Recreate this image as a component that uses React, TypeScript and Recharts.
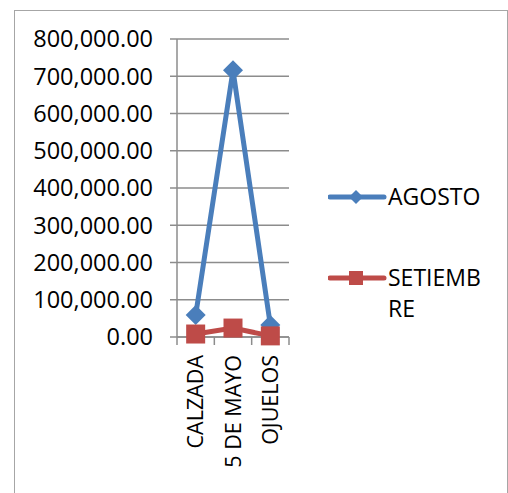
import { LineChart, Line, XAxis, YAxis, CartesianGrid, Legend } from "recharts";

const categories = ["CALZADA", "5 DE MAYO", "OJUELOS"];
const agosto = [59000, 716000, 32000];
const setiembre = [8000, 24000, 3000];
const yTicks = [0, 100000, 200000, 300000, 400000, 500000, 600000, 700000, 800000];
const seriesNames = ["AGOSTO", "SETIEMBRE"];

const data = categories.map((name, i) => ({
  name,
  agosto: agosto[i],
  setiembre: setiembre[i],
}));

const W = 508;
const H = 493;
const PLOT_LEFT = 177;
const PLOT_RIGHT = 289;
const PLOT_TOP = 39;
const PLOT_BOTTOM = 337;
const HALF_BAND = (PLOT_RIGHT - PLOT_LEFT) / categories.length / 2;

const FONT = "'Open Sans', sans-serif";
const BLUE = "#4A7EBB";
const RED = "#BE4B48";
const GRID = "#8C8C8C";

const fmt = (v: number) =>
  v.toLocaleString("en-US", { minimumFractionDigits: 2, maximumFractionDigits: 2 });

function Diamond({ cx, cy, r, fill }: { cx: number; cy: number; r: number; fill: string }) {
  return (
    <polygon
      points={`${cx},${cy - r} ${cx + r},${cy} ${cx},${cy + r} ${cx - r},${cy}`}
      fill={fill}
    />
  );
}

function Square({ cx, cy, r, fill }: { cx: number; cy: number; r: number; fill: string }) {
  return <rect x={cx - r} y={cy - r} width={r * 2} height={r * 2} fill={fill} />;
}

// category label rotated, plus tick marks between categories
function CategoryTick(props: any) {
  const { x, y, payload, index } = props;
  const ty = PLOT_BOTTOM + 18;
  return (
    <g>
      <line x1={x - HALF_BAND} y1={PLOT_BOTTOM} x2={x - HALF_BAND} y2={PLOT_BOTTOM + 8} stroke={GRID} strokeWidth={1.5} />
      {index === categories.length - 1 && (
        <line x1={x + HALF_BAND} y1={PLOT_BOTTOM} x2={x + HALF_BAND} y2={PLOT_BOTTOM + 8} stroke={GRID} strokeWidth={1.5} />
      )}
      <text
        x={x}
        y={ty}
        transform={`rotate(-90, ${x}, ${ty})`}
        textAnchor="end"
        dy="0.355em"
        fill="#000"
        fontSize={21.5}
        fontFamily={FONT}
      >
        {payload.value}
      </text>
    </g>
  );
}

function LegendBox() {
  const markers = [
    <Diamond cx={28} cy={12} r={7} fill={BLUE} />,
    <Square cx={28} cy={12} r={7} fill={RED} />,
  ];
  const colors = [BLUE, RED];
  return (
    <div style={{ fontFamily: FONT, fontSize: 23, color: "#000" }}>
      {seriesNames.map((name, i) => (
        <div key={name} style={{ display: "flex", alignItems: "flex-start", marginBottom: 50 }}>
          <svg width={60} height={24} style={{ marginTop: 4 }}>
            <line x1={2} y1={12} x2={56} y2={12} stroke={colors[i]} strokeWidth={5} strokeLinecap="round" />
            {markers[i]}
          </svg>
          <span style={{ width: 104, lineHeight: "31px", wordBreak: "break-all" }}>{name}</span>
        </div>
      ))}
    </div>
  );
}

export default function App() {
  return (
    <div style={{ position: "absolute", left: 0, top: 0, width: W, height: H, background: "#fff" }}>
      <div
        style={{
          position: "absolute",
          left: 14,
          top: 10,
          width: 492,
          height: 520,
          border: "1.5px solid #A6A6A6",
        }}
      />
      <LineChart
        width={W}
        height={H}
        data={data}
        margin={{ top: PLOT_TOP, right: W - PLOT_RIGHT, bottom: 0, left: 0 }}
      >
        <CartesianGrid vertical={false} stroke={GRID} strokeWidth={1.5} />
        <XAxis
          dataKey="name"
          scale="band"
          height={H - PLOT_BOTTOM}
          stroke={GRID}
          strokeWidth={1.5}
          tickLine={false}
          interval={0}
          tick={<CategoryTick />}
        />
        <YAxis
          width={PLOT_LEFT}
          domain={[0, 800000]}
          ticks={yTicks}
          tickFormatter={fmt}
          stroke={GRID}
          strokeWidth={1.5}
          tickSize={7}
          tickMargin={17}
          tick={{ fill: "#000", fontSize: 23.5, fontFamily: FONT }}
        />
        <Legend
          layout="horizontal"
          verticalAlign="middle"
          align="center"
          wrapperStyle={{ left: 328, top: 181, width: 175 }}
          content={() => <LegendBox />}
        />
        <Line
          dataKey="agosto"
          name={seriesNames[0]}
          stroke={BLUE}
          strokeWidth={5}
          isAnimationActive={false}
          dot={(p: any) => <Diamond key={p.index} cx={p.cx} cy={p.cy} r={10} fill={BLUE} />}
        />
        <Line
          dataKey="setiembre"
          name={seriesNames[1]}
          stroke={RED}
          strokeWidth={5}
          isAnimationActive={false}
          dot={(p: any) => <Square key={p.index} cx={p.cx} cy={p.cy} r={9.5} fill={RED} />}
        />
      </LineChart>
    </div>
  );
}
